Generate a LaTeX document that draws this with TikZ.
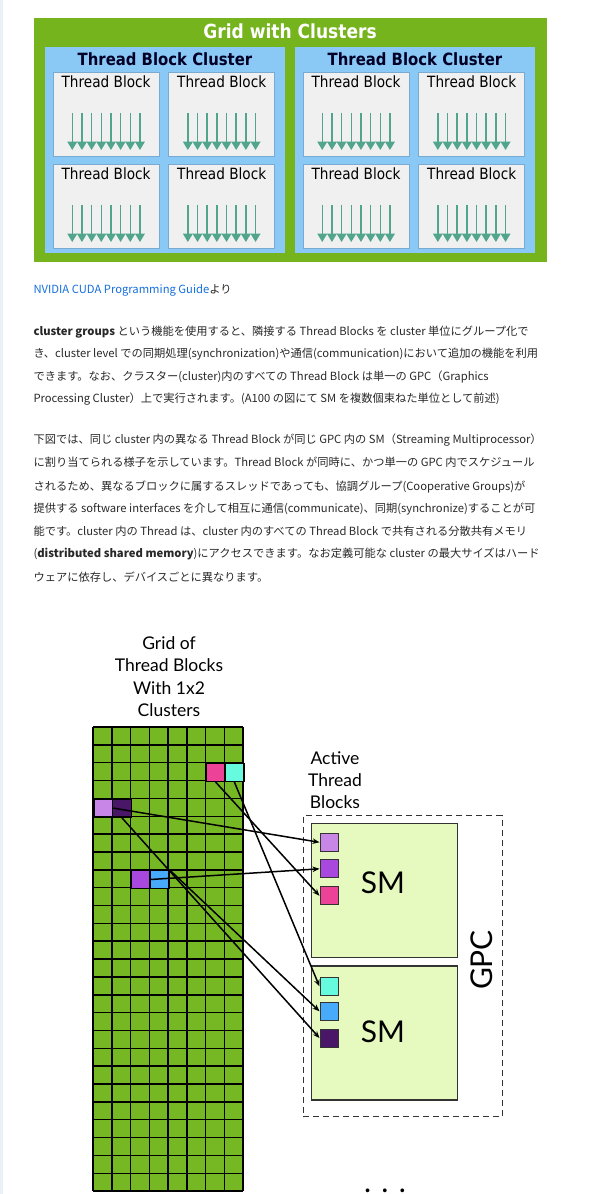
\documentclass[tikz,border=0pt]{standalone}
\usepackage{fontspec}
\setmainfont{Noto Sans CJK JP}
\newfontfamily\tahoma[FakeStretch=0.88]{DejaVu Sans}
\newfontfamily\gill{Lato}
\usetikzlibrary{arrows.meta}

\definecolor{sidebar}{RGB}{233,241,248}
\definecolor{nvgreen}{RGB}{118,180,30}
\definecolor{clusterblue}{RGB}{138,200,245}
\definecolor{tbgray}{RGB}{240,240,240}
\definecolor{tbedge}{RGB}{120,170,210}
\definecolor{threadteal}{RGB}{80,165,140}
\definecolor{gridgreen}{RGB}{118,184,36}
\definecolor{smfill}{RGB}{230,250,192}
\definecolor{linkblue}{RGB}{20,110,220}
\definecolor{bodytext}{RGB}{40,40,40}
\definecolor{cpink}{RGB}{236,66,152}
\definecolor{ccyan}{RGB}{102,250,222}
\definecolor{clav}{RGB}{200,134,230}
\definecolor{cdark}{RGB}{74,22,104}
\definecolor{cpurple}{RGB}{168,72,222}
\definecolor{cblue}{RGB}{72,170,250}

\tikzset{
  tblock/.style={draw=tbedge, fill=tbgray, line width=0.8pt, minimum width=106pt, minimum height=84pt, inner sep=0pt, anchor=north west},
  thr/.style={draw=threadteal, line width=1.5pt, -{Triangle[width=9.8pt,length=8.5pt]}},
  cell/.style={draw=black, line width=1.5pt, minimum width=18.75pt, minimum height=17.85pt, inner sep=0pt, anchor=north west},
  sbox/.style={draw=black!80, line width=1pt, minimum size=18pt, inner sep=0pt},
  smbox/.style={draw=black!80, fill=smfill, line width=1.2pt, minimum width=146pt, minimum height=134pt, inner sep=0pt, anchor=north west},
  conn/.style={line width=1.5pt, -{Stealth[length=7pt,width=5.5pt]}},
  bodyline/.style={anchor=west, inner sep=0pt, text=bodytext, font=\fontsize{11.25}{13}\selectfont},
  gilltext/.style={font=\gill\fontsize{17.5}{22.3}\selectfont, align=center},
}

\begin{document}
\begin{tikzpicture}[x=1pt, y=-1pt]
    \useasboundingbox (0,0) rectangle (592,1194);
    % page strip on the left
    \fill[sidebar] (0,0) rectangle (3.3,1194);

    % Grid with clusters
    \node[fill=nvgreen, minimum width=512.7pt, minimum height=244.4pt, inner sep=0pt, anchor=north west] (grid) at (34,17.3) {};
    \node[text=white, font=\tahoma\bfseries\fontsize{19.4}{20}\selectfont] (gridtitle) at (290,31) {Grid with Clusters};
    \foreach \cx/\nm in {45/A, 295/B} {
        \node[fill=clusterblue, minimum width=240pt, minimum height=206pt, inner sep=0pt, anchor=north west] (cl\nm) at (\cx,46.7) {};
        \node[font=\tahoma\bfseries\fontsize{16.9}{18}\selectfont, text=black!85!blue] (cl\nm title) at ({\cx+120},59) {Thread Block Cluster};
        % four thread blocks in each cluster
        \foreach \tx/\ty/\k in {7.7/72.3/1, 123.3/72.3/2, 7.7/164.3/3, 123.3/164.3/4} {
            \node[tblock] (tb\nm\k) at ({\cx+\tx},\ty) {};
            \node[font=\tahoma\fontsize{15.5}{16}\selectfont, anchor=north] (tb\nm\k lbl) at (tb\nm\k.north) {Thread Block};
            \foreach \i in {0,...,7}
                \draw[thr] ([xshift={(\i-3.5)*9.67}, yshift=-41pt]tb\nm\k.north) -- ++(0,36.7);
        }
    }

    % text under the picture
    \node[bodyline] (source) at (33.3,290) {\textcolor{linkblue}{NVIDIA CUDA Programming Guide}より};
    \foreach \yy/\txt [count=\n] in {
        331.7/{\textbf{cluster groups} という機能を使用すると、隣接する Thread Blocks を cluster 単位にグループ化で},
        354.3/{き、cluster level での同期処理(synchronization)や通信(communication)において追加の機能を利用},
        376.7/{できます。なお、クラスター(cluster)内のすべての Thread Block は単一の GPC（Graphics},
        399.3/{Processing Cluster）上で実行されます。(A100 の図にて SM を複数個束ねた単位として前述)},
        440/{下図では、同じ cluster 内の異なる Thread Block が同じ GPC 内の SM（Streaming Multiprocessor）},
        462.7/{に割り当てられる様子を示しています。Thread Block が同時に、かつ単一の GPC 内でスケジュール},
        486.7/{されるため、異なるブロックに属するスレッドであっても、協調グループ(Cooperative Groups)が},
        509/{提供する software interfaces を介して相互に通信(communicate)、同期(synchronize)することが可},
        531.7/{能です。cluster 内の Thread は、cluster 内のすべての Thread Block で共有される分散共有メモリ},
        554.3/{(\textbf{distributed shared memory})にアクセスできます。なお定義可能な cluster の最大サイズはハード},
        577.3/{ウェアに依存し、デバイスごとに異なります。}}
        \node[bodyline] (para\n) at (33.3,\yy) {\txt};

    % grid of thread blocks, 8 x 26 cells
    \fill[gridgreen] (93,727) rectangle (243,1191);
    \foreach \i in {0,...,8}
        \draw[line width=1.5pt] ({93+\i*18.75},727) -- ({93+\i*18.75},1191);
    \foreach \j in {0,...,26}
        \draw[line width=1.5pt] (93,{727+\j*17.85}) -- (243,{727+\j*17.85});
    \foreach \nm/\col/\c/\r in {pinkc/cpink/6/2, cyanc/ccyan/7/2, lavc/clav/0/4, darkc/cdark/1/4, purc/cpurple/2/8, bluec/cblue/3/8}
        \node[cell, fill=\col] (\nm) at ({93+\c*18.75},{727+\r*17.85}) {};
    \node[gilltext] (gridlbl) at (169,676.5) {Grid of\\Thread Blocks\\With 1x2\\Clusters};

    % GPC with two SMs
    \node[draw=black!80, dash pattern=on 6pt off 4pt, line width=1.2pt, minimum width=199pt, minimum height=301pt, inner sep=0pt, anchor=north west] (gpc) at (302.7,815) {};
    \node[smbox] (smA) at (310.7,822.7) {};
    \node[smbox] (smB) at (310.7,965.3) {};
    \node[font=\gill\fontsize{30}{30}\selectfont] (smAlbl) at (383,883) {SM};
    \node[font=\gill\fontsize{30}{30}\selectfont] (smBlbl) at (383,1032) {SM};
    \node[font=\gill\fontsize{30}{30}\selectfont, rotate=90] (gpclbl) at (481.7,960) {GPC};
    \node[gilltext] (activelbl) at (335,780) {Active\\Thread\\Blocks};
    \foreach \nm/\col/\yy in {lavs/clav/842.3, purs/cpurple/868.8, pinks/cpink/895.8, cyans/ccyan/986.5, blues/cblue/1011.3, darks/cdark/1038}
        \node[sbox, fill=\col] (\nm) at (329,\yy) {};

    % blocks go to the SMs
    \draw[conn] (lavc.east) -- (lavs.west);
    \draw[conn] (darkc.south) -- (darks.west);
    \draw[conn] (pinkc.south) -- (pinks.west);
    \draw[conn] (cyanc.south) -- (cyans.west);
    \draw[conn] (purc.east) -- (purs.west);
    \draw[conn] (bluec.north east) -- (blues.west);
    \node[font=\gill\fontsize{30}{30}\selectfont, anchor=base, inner sep=0pt] (more) at (385,1192) {. . .};
\end{tikzpicture}
\end{document}
